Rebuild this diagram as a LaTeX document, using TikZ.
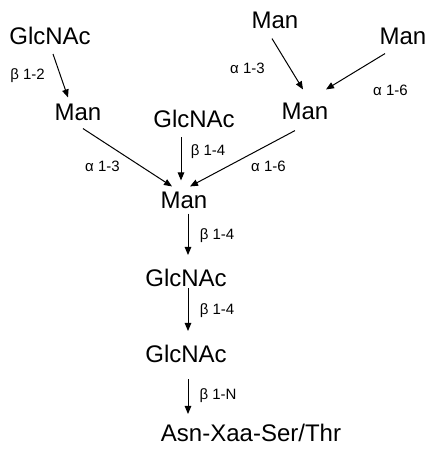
\documentclass[tikz,border=0pt]{standalone}
\usepackage{fontspec}
\setmainfont{Liberation Sans}
\usetikzlibrary{arrows.meta}

\begin{document}
\begin{tikzpicture}[x=1pt, y=-1pt, >={Triangle[length=8pt,width=6.5pt]}]
        \useasboundingbox (0,0) rectangle (436,451);
        \tikzset{sugar/.style={inner sep=0pt, font=\fontsize{24}{24}\selectfont},
                 bond/.style={inner sep=0pt, font=\fontsize{15}{15}\selectfont}}

        \node[sugar] (1) at (50,36) {GlcNAc};
        \node[sugar] (2) at (78,112) {Man};
        \node[sugar] (3) at (194,119) {GlcNAc};
        \node[sugar] (4) at (275,20) {Man};
        \node[sugar] (5) at (403,36) {Man};
        \node[sugar] (6) at (305,111) {Man};
        \node[sugar] (7) at (184,200) {Man};
        \node[sugar] (8) at (186,278) {GlcNAc};
        \node[sugar] (9) at (186,354) {GlcNAc};
        \node[sugar] (10) at (251,433) {Asn-Xaa-Ser/Thr};

        \path[->, line width=1pt]  ([shift={(3,9)}]1.south) edge node[bond, shift={(-33,0)}] {β 1-2} ([shift={(-10,-6)}]2.north);
        \path[->, line width=1pt]  ([shift={(-3,10)}]4.south) edge node[bond, shift={(-40,4)}] {α 1-3} ([shift={(-2,-13)}]6.north);
        \path[->, line width=1pt]  ([shift={(-18,9)}]5.south) edge node[bond, shift={(35,19)}] {α 1-6} ([shift={(21,-13)}]6.north);
        \path[->, line width=1pt]  ([shift={(5,8)}]2.south) edge node[bond, shift={(-25,9)}] {α 1-3} ([shift={(-12,-5)}]7.north);
        \path[->, line width=1pt]  ([shift={(-13,9)}]3.south) edge node[bond, shift={(27,-7)}] {β 1-4} ([shift={(-3,-11)}]7.north);
        \path[->, line width=1pt]  ([shift={(-10,11)}]6.south) edge node[bond, shift={(26,8)}] {α 1-6} ([shift={(6,-5)}]7.north);
        \path[->, line width=1pt]  ([shift={(4,5)}]7.south) edge node[bond, shift={(29,1)}] {β 1-4} ([shift={(2,-14)}]8.north);
        \path[->, line width=1pt]  ([shift={(2,1)}]8.south) edge node[bond, shift={(29,1)}] {β 1-4} ([shift={(2,-14)}]9.north);
        \path[->, line width=1pt]  ([shift={(2,16)}]9.south) edge node[bond, shift={(30,-1)}] {β 1-N} ([shift={(-63,-10)}]10.north);
    \end{tikzpicture}
\end{document}
